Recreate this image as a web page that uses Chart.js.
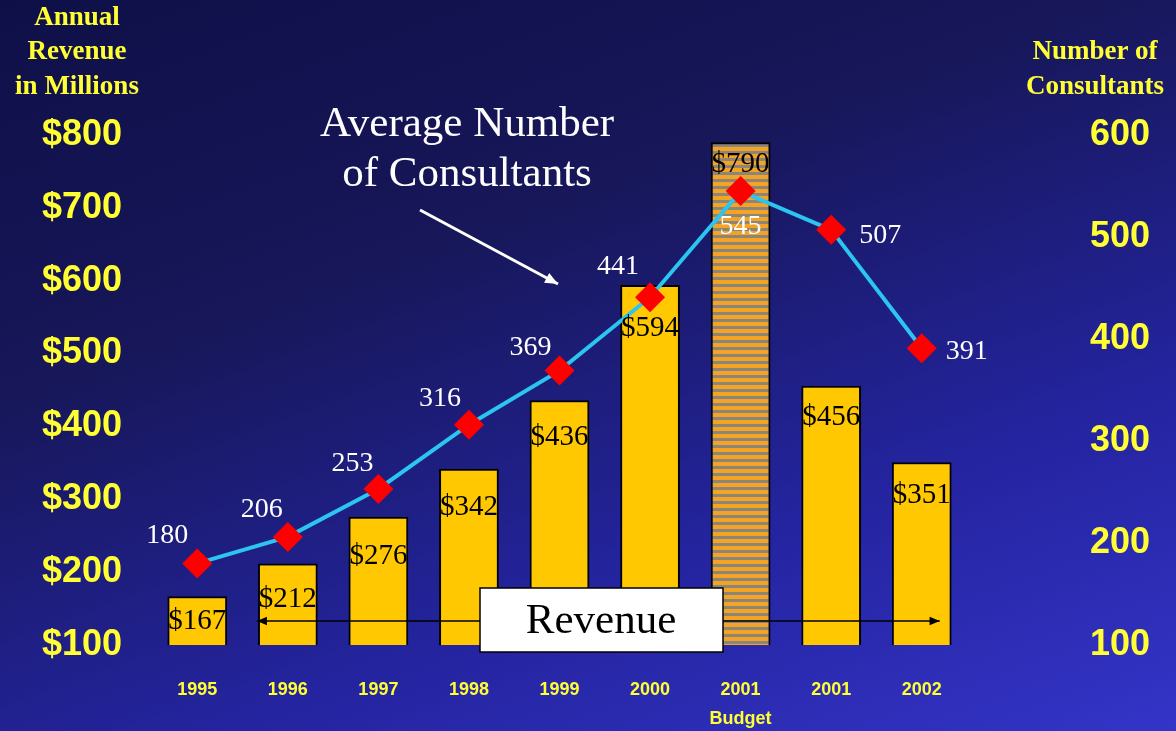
<!DOCTYPE html>
<html>
<head>
<meta charset="utf-8">
<script src="https://cdn.jsdelivr.net/npm/chart.js@4.4.0/dist/chart.umd.min.js"></script>
<style>
  html, body { margin: 0; padding: 0; overflow: hidden; }
  body {
    width: 1176px; height: 731px;
    background: linear-gradient(160deg, #0f0f48 0%, #17175a 35%, #2424a0 70%, #3434c8 100%);
  }
  canvas { display: block; }
</style>
</head>
<body>
<canvas id="c" width="1176" height="731"></canvas>
<script>
// data
const years = ['1995', '1996', '1997', '1998', '1999', '2000', ['2001', 'Budget'], '2001', '2002'];
const revenue = [167, 212, 276, 342, 436, 594, 790, 456, 351];
const consultants = [180, 206, 253, 316, 369, 441, 545, 507, 391];
const budgetIndex = 6;

const serif = '"Liberation Serif", "Times New Roman", serif';
const sans = '"Liberation Sans", Arial, sans-serif';
const yellow = '#ffff33';

// striped fill for the budget bar
function stripes() {
  const p = document.createElement('canvas');
  p.width = 8; p.height = 7;
  const g = p.getContext('2d');
  g.fillStyle = '#f4a323';
  g.fillRect(0, 0, 8, 7);
  g.fillStyle = '#8b857a';
  g.fillRect(0, 4, 8, 3);
  return g.createPattern(p, 'repeat');
}

// label placement (pixels from the mark)
const barLabelDrop = [25, 36, 40, 39, 37, 43, 22, 32, 33];
const pointLabelOffsets = [[-30, -28], [-26, -27], [-26, -25], [-29, -26], [-29, -23], [-32, -31], [0, 36], [49, 6], [45, 3]];

function arrow(ctx, x1, y1, x2, y2, head) {
  const a = Math.atan2(y2 - y1, x2 - x1);
  ctx.beginPath();
  ctx.moveTo(x1, y1);
  ctx.lineTo(x2, y2);
  ctx.stroke();
  ctx.beginPath();
  ctx.moveTo(x2, y2);
  ctx.lineTo(x2 - head * Math.cos(a - 0.4), y2 - head * Math.sin(a - 0.4));
  ctx.lineTo(x2 - head * Math.cos(a + 0.4), y2 - head * Math.sin(a + 0.4));
  ctx.closePath();
  ctx.fill();
}

const overlay = {
  id: 'overlay',
  afterDatasetsDraw(chart) {
    const ctx = chart.ctx;
    const x = chart.scales.x;
    const bars = chart.getDatasetMeta(0).data;
    const pts = chart.getDatasetMeta(1).data;
    ctx.save();

    // bar value labels
    ctx.fillStyle = '#000';
    ctx.font = '29px ' + serif;
    ctx.textAlign = 'center';
    ctx.textBaseline = 'middle';
    bars.forEach((b, i) => {
      ctx.fillText('$' + revenue[i], b.x, b.y + barLabelDrop[i]);
    });

    // consultant labels
    ctx.fillStyle = '#fff';
    ctx.font = '28px ' + serif;
    pts.forEach((p, i) => {
      const o = pointLabelOffsets[i];
      ctx.fillText(String(consultants[i]), p.x + o[0], p.y + o[1]);
    });

    // revenue double arrow + box
    const ay = 621;
    const ax1 = x.getPixelForValue(1) - 31;
    const ax2 = x.getPixelForValue(8) + 18;
    ctx.strokeStyle = '#000';
    ctx.fillStyle = '#000';
    ctx.lineWidth = 1.5;
    arrow(ctx, (ax1 + ax2) / 2, ay, ax1, ay, 11);
    arrow(ctx, (ax1 + ax2) / 2, ay, ax2, ay, 11);
    ctx.fillStyle = '#fff';
    ctx.fillRect(480, 588, 243, 64);
    ctx.strokeRect(480, 588, 243, 64);
    ctx.fillStyle = '#000';
    ctx.font = '43px ' + serif;
    ctx.fillText('Revenue', 601, 622);

    // callout for the line
    ctx.fillStyle = '#fff';
    ctx.strokeStyle = '#fff';
    ctx.font = '43px ' + serif;
    ctx.fillText('Average Number', 467, 125);
    ctx.fillText('of Consultants', 467, 175);
    ctx.lineWidth = 3;
    arrow(ctx, 420, 210, 558, 284, 14);

    // axis titles
    ctx.fillStyle = yellow;
    ctx.font = 'bold 27px ' + serif;
    ctx.fillText('Annual', 77, 18);
    ctx.fillText('Revenue', 77, 52);
    ctx.fillText('in Millions', 77, 87);
    ctx.fillText('Number of', 1095, 52);
    ctx.fillText('Consultants', 1095, 87);
    ctx.restore();
  }
};

// fixed axis size, and no extra padding from the big tick gaps
function fitY(w) {
  return s => { s.width = w; s.paddingTop = 0; s.paddingBottom = 0; };
}

new Chart(document.getElementById('c'), {
  data: {
    labels: years,
    datasets: [
      {
        type: 'bar',
        data: revenue,
        yAxisID: 'yL',
        order: 1,
        backgroundColor: revenue.map((v, i) => i === budgetIndex ? stripes() : '#ffc800'),
        borderColor: '#000',
        borderWidth: 2,
        borderSkipped: false,
        categoryPercentage: 1,
        barPercentage: 0.66
      },
      {
        type: 'line',
        data: consultants,
        yAxisID: 'yR',
        order: 0,
        borderColor: '#2cc4f0',
        borderWidth: 4,
        pointStyle: 'rectRot',
        pointRadius: 15,
        pointBackgroundColor: '#ff0000',
        pointBorderColor: '#ff0000',
        pointBorderWidth: 0
      }
    ]
  },
  options: {
    responsive: false,
    animation: false,
    events: [],
    layout: { padding: { top: 135, left: 0, right: 0, bottom: 0 } },
    plugins: { legend: { display: false }, tooltip: { enabled: false } },
    scales: {
      x: {
        grid: { display: false, drawTicks: false },
        border: { display: false },
        ticks: { color: yellow, font: { family: sans, size: 18, weight: 'bold', lineHeight: 1.6 }, padding: 31, maxRotation: 0 },
        afterFit: s => { s.height = 86; }
      },
      yL: {
        position: 'left',
        min: 100, max: 800,
        grid: { display: false, drawTicks: false },
        border: { display: false },
        ticks: { stepSize: 100, color: yellow, font: { family: sans, size: 36, weight: 'bold' }, padding: 30, callback: v => '$' + v },
        afterFit: fitY(152)
      },
      yR: {
        position: 'right',
        min: 100, max: 600,
        grid: { display: false, drawTicks: false },
        border: { display: false },
        ticks: { stepSize: 100, color: yellow, font: { family: sans, size: 36, weight: 'bold' }, padding: 123 },
        afterFit: fitY(209)
      }
    }
  },
  plugins: [overlay]
});
</script>
</body>
</html>
